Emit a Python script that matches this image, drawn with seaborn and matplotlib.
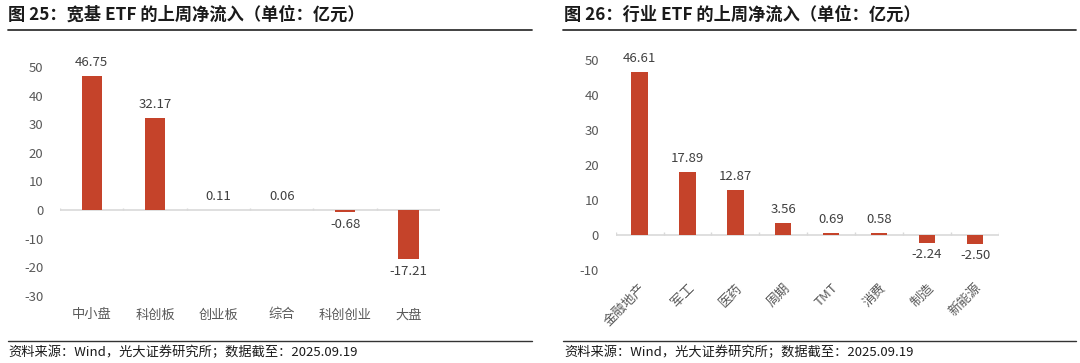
import matplotlib
matplotlib.use("Agg")
import matplotlib.pyplot as plt
import seaborn as sns
import pandas as pd
import numpy as np

sns.set_theme(style="white")
plt.rcParams['font.family'] = ['Noto Sans CJK SC', 'DejaVu Sans']
plt.rcParams['axes.unicode_minus'] = False

# data
left_title = "图 25：宽基 ETF 的上周净流入（单位：亿元）"
left_cats = ["中小盘", "科创板", "创业板", "综合", "科创创业", "大盘"]
left_vals = [46.75, 32.17, 0.11, 0.06, -0.68, -17.21]
left_yticks = [50, 40, 30, 20, 10, 0, -10, -20, -30]

right_title = "图 26：行业 ETF 的上周净流入（单位：亿元）"
right_cats = ["金融地产", "军工", "医药", "周期", "TMT", "消费", "制造", "新能源"]
right_vals = [46.61, 17.89, 12.87, 3.56, 0.69, 0.58, -2.24, -2.50]
right_yticks = [50, 40, 30, 20, 10, 0, -10]

source = "资料来源：Wind，光大证券研究所；数据截至：2025.09.19"

BAR = "#C5432A"
TXT = "#404040"
TICK = "#595959"
AXIS = "#D9D9D9"

fig = plt.figure(figsize=(10.8, 3.63), dpi=100)

def draw(ax, cats, vals, yticks, width, rot, tick_h):
    df = pd.DataFrame({"cat": cats, "val": vals})
    sns.barplot(data=df, x="cat", y="val", color=BAR, width=width, ax=ax,
                saturation=1, edgecolor="none", order=cats)
    ax.set_ylim(min(yticks), max(yticks))
    ax.set_xlim(-0.5, len(cats) - 0.5)
    ax.set_yticks(yticks)
    ax.set_yticklabels([str(t) for t in yticks], color=TICK, fontsize=9.5)
    for s in ax.spines.values():
        s.set_visible(False)
    ax.axhline(0, color=AXIS, lw=1.2, zorder=0.5)
    ax.vlines(np.arange(len(cats) + 1) - 0.5, 0, tick_h, color=AXIS, lw=1.0)
    ax.tick_params(axis="both", length=0)
    ax.tick_params(axis="y", pad=12)
    ax.set_xlabel("")
    ax.set_ylabel("")
    for i, v in enumerate(vals):
        if v >= 0:
            ax.annotate(f"{v:.2f}", (i, v), xytext=(0, 5), textcoords="offset points",
                        ha="center", va="bottom", fontsize=9.5, color=TXT, clip_on=False)
        else:
            ax.annotate(f"{v:.2f}", (i, v), xytext=(0, -4), textcoords="offset points",
                        ha="center", va="top", fontsize=9.5, color=TXT, clip_on=False)
    ax.set_xticks(range(len(cats)))
    if rot:
        ax.set_xticklabels(cats, rotation=45, ha="right", rotation_mode="anchor",
                           color=TICK, fontsize=9.5)
        ax.tick_params(axis="x", pad=8)
    else:
        ax.set_xticklabels(cats, color=TICK, fontsize=9.5)
        ax.tick_params(axis="x", pad=9)

axL = fig.add_axes([0.0556, 0.1846, 0.352, 0.6309])
draw(axL, left_cats, left_vals, left_yticks, 0.32, False, 0.9)

axR = fig.add_axes([0.570, 0.2562, 0.355, 0.5785])
draw(axR, right_cats, right_vals, right_yticks, 0.34, True, 0.75)

# titles and rules
fig.text(8/1080, 1 - 15/363, left_title, fontsize=12.4, fontweight="bold", color="#1a1a1a",
         ha="left", va="center")
fig.text(564/1080, 1 - 15/363, right_title, fontsize=12.4, fontweight="bold", color="#1a1a1a",
         ha="left", va="center")
for x0, x1 in [(8, 532), (563, 1076)]:
    fig.add_artist(plt.Line2D([x0/1080, x1/1080], [1 - 30/363] * 2, color="#333333", lw=1.3))
    fig.add_artist(plt.Line2D([x0/1080, x1/1080], [1 - 341/363] * 2, color="#333333", lw=1.0))
fig.text(8/1080, 1 - 352/363, source, fontsize=9.5, color="#1a1a1a", ha="left", va="center")
fig.text(564/1080, 1 - 352/363, source, fontsize=9.5, color="#1a1a1a", ha="left", va="center")

fig.savefig("out.png", dpi=100)
